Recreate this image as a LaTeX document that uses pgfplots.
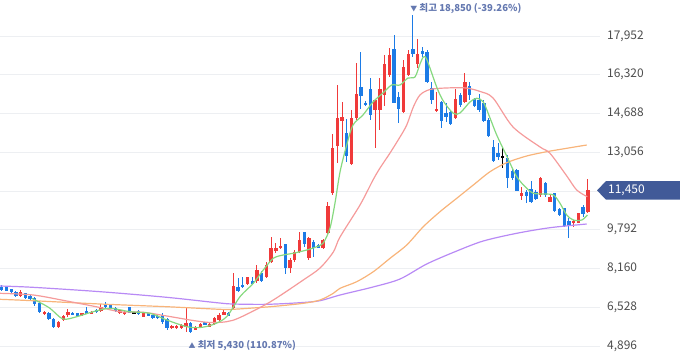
\documentclass[border=0pt]{standalone}
\usepackage{fontspec}
\usepackage{pgfplots}
\usepackage{pgfplotstable}
\pgfplotsset{compat=1.18}
\newfontfamily\kr{Noto Sans CJK KR}
\definecolor{upred}{HTML}{F03A3A}
\definecolor{dnblue}{HTML}{1C7BE6}
\definecolor{maA}{HTML}{86D97F}
\definecolor{maB}{HTML}{F59B9B}
\definecolor{maC}{HTML}{F8B47A}
\definecolor{maD}{HTML}{B88AF5}
\definecolor{gridc}{HTML}{EDEFF2}
\definecolor{lab}{HTML}{4D4D4D}
\definecolor{tagc}{HTML}{415A98}
\definecolor{ann}{HTML}{6478B0}

\pgfplotstableread{
x o h l c
4 7015 7255 6973 7158
9 6244 6370 6202 6328
12 5684 5949 5655 5920
13 5992 6202 5949 6160
14 6202 6442 6131 6341
17 6202 6307 6181 6273
19 6273 6370 6244 6341
21 6383 6652 6341 6552
25 6273 6455 6244 6413
26 6244 6383 6223 6341
30 6131 6307 6110 6273
36 5642 5781 5613 5752
37 5642 5781 5613 5752
38 5642 5810 5613 5781
39 5684 6484 5499 5852
41 5571 5752 5550 5710
42 5710 5852 5690 5823
44 5710 5852 5690 5823
45 5823 6105 5781 6063
46 5992 6273 5970 6202
47 6202 6413 6181 6341
49 6497 7971 6455 7423
52 7507 7815 7465 7789
54 7634 8308 7563 8097
56 7815 8447 7747 8308
57 8447 9500 8379 9011
58 8910 9247 8801 9011
59 9011 9432 8969 9108
61 8168 8590 7983 8518
62 8518 8939 8447 8868
63 8868 9710 8801 9361
65 8590 9470 8518 9457
68 9036 9403 9000 9361
69 9643 10974 9571 10793
70 11328 13813 11256 13248
71 13333 15889 12604 14512
72 14386 15186 13291 14529
74 12562 14836 12520 14487
75 14487 16803 14415 15498
79 14836 15270 13223 15258
80 14836 16171 13994 15708
81 15468 17153 15005 16761
82 16310 17448 16226 17153
85 14765 16942 14697 16660
86 16310 17363 16268 17195
88 16761 17827 16593 17195
92 14807 15607 14765 14866
96 14487 15708 14444 15287
98 15186 16382 15144 16028
110 11214 11605 11045 11353
114 11256 12027 11186 11985
116 10974 11256 10943 11186
121 10077 10203 9921 10161
122 10090 10486 10062 10486
124 10552 11917 10510 11450
}\up

\pgfplotstableread{
x o h l c
0 7394 7465 7213 7255
1 7394 7423 7213 7226
2 7284 7318 7149 7184
3 7184 7213 6981 7015
5 7115 7149 6876 6905
6 7002 7044 6834 6876
7 6905 6973 6581 6652
8 6720 6791 6307 6341
10 6273 6328 5992 6021
11 6034 6076 5655 5684
15 6299 6328 6202 6231
16 6273 6307 6160 6173
18 6383 6526 6231 6244
20 6413 6455 6286 6316
22 6652 6737 6509 6526
23 6623 6644 6455 6484
24 6484 6518 6328 6370
27 6526 6552 6273 6299
29 6370 6392 6223 6244
31 6273 6300 6140 6160
32 6202 6223 6042 6063
33 6160 6181 6042 6063
34 6202 6273 5810 5920
35 6021 6063 5571 5642
40 5852 5920 5430 5499
43 5895 5920 5760 5781
48 6307 6340 6160 6181
50 7394 7760 7184 7226
51 7465 7815 7326 7368
53 7634 7815 7493 7507
55 7984 8055 7613 7646
60 9192 9210 7916 8168
64 9685 9710 9078 9192
66 9289 9361 8632 9036
67 9150 9192 9019 9036
73 13855 14444 12658 12899
76 15793 17292 14866 15426
77 15131 15215 15000 15068
78 15708 16171 14415 14626
83 17393 17995 15118 15144
84 15397 15607 14276 14866
87 17393 18850 17081 17195
89 17334 17503 17081 17195
90 17292 17363 15986 16028
91 15750 16000 15100 15258
93 15186 15200 14065 14385
94 14722 15118 14343 14529
95 14765 14836 14205 14247
97 15468 15540 14976 15047
99 15847 16028 15258 15468
100 15287 15340 14963 15005
101 15258 15510 14752 14836
102 15144 15258 14343 14385
103 14415 14500 13700 13741
104 13291 13573 12658 12700
105 13010 13459 12730 12868
107 12814 12941 11551 11972
108 12280 12337 11888 11985
109 12309 12350 11425 11437
111 11395 11467 10906 11214
112 11509 11859 10930 10948
113 11395 11467 11045 11075
115 11749 11818 11186 11256
117 11353 11353 10552 10594
118 10653 10695 10371 10413
119 10695 10695 9922 9950
120 10161 10275 9432 9950
123 10738 10835 10342 10456
}\down

\pgfplotstableread{
x o h l c
28 6310 6328 6265 6290
106 12885 13291 12381 12850
}\flat

\pgfplotsset{
  wick/.style={only marks, mark=*, mark size=0pt, mark options={draw=none, fill=none},
    error bars/.cd, y dir=both, y explicit, error mark=none,
    error bar style={line width=1bp, draw=#1}},
  body/.style={only marks, mark=*, mark size=0pt, mark options={draw=none, fill=none},
    error bars/.cd, y dir=both, y explicit, error mark=none,
    error bar style={line width=3.3bp, draw=#1}},
}

\begin{document}
\begin{tikzpicture}
\begin{axis}[
  scale only axis, width=600bp, height=358bp,
  xmin=-0.36, xmax=126.57, ymin=4391, ymax=19469,
  enlargelimits=false, clip=false,
  axis line style={draw=none},
  major tick length=0pt,
  xtick=\empty,
  ytick={4896,6528,8160,9792,13056,14688,16320,17952},
  yticklabels={{4,896},{6,528},{8,160},{9,792},{13,056},{14,688},{16,320},{17,952}},
  extra y ticks={11424}, extra y tick labels={},
  extra y tick style={grid=major, major tick length=0pt},
  yticklabel pos=right,
  yticklabel style={anchor=west, xshift=7bp, text=lab, font=\kr\fontsize{12}{14}\selectfont, inner sep=0pt},
  ymajorgrids, grid style={draw=gridc, line width=1bp},
]
\coordinate (SW) at (rel axis cs:0,0);
\coordinate (T) at (axis cs:126.57,11450);

% wicks
\addplot[wick=upred] table[x=x, y expr={(\thisrow{h}+\thisrow{l})/2}, y error expr={(\thisrow{h}-\thisrow{l})/2}] {\up};
\addplot[wick=dnblue] table[x=x, y expr={(\thisrow{h}+\thisrow{l})/2}, y error expr={(\thisrow{h}-\thisrow{l})/2}] {\down};
\addplot[wick=black] table[x=x, y expr={(\thisrow{h}+\thisrow{l})/2}, y error expr={(\thisrow{h}-\thisrow{l})/2}] {\flat};
% bodies
\addplot[body=upred] table[x=x, y expr={(\thisrow{o}+\thisrow{c})/2}, y error expr={abs(\thisrow{c}-\thisrow{o})/2}] {\up};
\addplot[body=dnblue] table[x=x, y expr={(\thisrow{o}+\thisrow{c})/2}, y error expr={abs(\thisrow{c}-\thisrow{o})/2}] {\down};
\addplot[body=black] table[x=x, y expr={(\thisrow{o}+\thisrow{c})/2}, y error expr={abs(\thisrow{c}-\thisrow{o})/2}] {\flat};

% MA120
\addplot[maD, line width=1.2bp, smooth] coordinates {(-0.36,7423) (6.62,7368) (20.80,7184) (34.91,6947) (45.48,6720) (48.93,6665) (56.06,6652) (63.11,6720) (67.34,6804) (71.57,7044) (78.55,7381) (84.26,7718) (89.91,8350) (96.26,8897) (101.88,9319) (108.95,9643) (115.99,9879) (123.76,10034)};
% MA60
\addplot[maC, line width=1.2bp, smooth] coordinates {(-0.36,6863) (6.62,6804) (20.80,6665) (34.91,6551) (46.18,6442) (48.93,6442) (56.76,6551) (63.80,6694) (67.34,6834) (70.15,7115) (71.57,7326) (75.10,7604) (78.61,8025) (82.15,8590) (85.68,9150) (89.19,9921) (92.72,10553) (96.26,11117) (99.77,11677) (103.30,12237) (106.83,12617) (111.07,12899) (115.30,13080) (119.53,13223) (123.76,13362)};
% MA20
\addplot[maB, line width=1.2bp, smooth] coordinates {(-0.36,7115) (6.69,7044) (13.75,6791) (20.80,6518) (25.03,6341) (29.96,6316) (34.91,6160) (40.53,5970) (44.07,5886) (47.60,5920) (50.41,6097) (56.76,6749) (63.80,7676) (67.34,8181) (70.15,8855) (71.57,9487) (75.80,10835) (78.55,11888) (80.03,12393) (82.15,13025) (84.26,13699) (85.68,14204) (87.08,14962) (88.49,15468) (90.60,15700) (93.99,15763) (98.22,15763) (101.19,15616) (103.94,15342) (108.17,14120) (113.88,13278) (115.99,13012) (119.53,12060) (121.64,11467) (123.88,11184)};
% MA5
\addplot[maA, line width=1.2bp, smooth] coordinates {(6.35,6905) (8.10,6727) (10.22,6484) (12.97,6034) (15.87,6131) (19.38,6341) (22.91,6484) (27.14,6341) (31.37,6273) (34.91,5992) (39.14,5710) (41.95,5676) (44.76,5802) (47.60,6131) (50.41,6973) (53.23,7537) (55.34,8097) (57.46,8590) (59.57,8730) (61.69,8801) (64.52,8939) (66.64,9078) (68.03,9234) (69.45,9866) (70.51,10919) (71.57,12225) (72.98,13362) (74.32,14204) (76.43,14626) (78.55,15174) (80.66,15553) (82.50,15889) (84.26,15889) (85.95,16184) (87.43,16226) (88.49,16774) (89.23,17069) (89.97,16942) (92.02,15805) (93.42,15215) (95.53,14697) (96.95,14710) (99.06,15174) (100.49,15329) (101.88,15174) (103.30,14499) (104.72,13783) (106.83,12899) (108.95,12027) (111.07,11538) (112.48,11327) (114.59,11298) (116.71,11256) (118.11,10906) (119.53,10413) (120.94,10203) (122.72,10203) (123.90,10413)};

\node[anchor=west, inner sep=0pt, text=ann, font=\kr\bfseries\fontsize{9.6}{12}\selectfont] at (axis cs:86.4,19090) {{\fontsize{7}{8}\selectfont ▼} 최고 18,850 (-39.26\%)};
\node[anchor=west, inner sep=0pt, text=ann, font=\kr\bfseries\fontsize{9.6}{12}\selectfont] at (axis cs:39.5,4930) {{\fontsize{7}{8}\selectfont ▲} 최저 5,430 (110.87\%)};
\end{axis}
\fill[tagc] ([xshift=-3bp]T) -- ([xshift=6bp,yshift=9.3bp]T) -- ([xshift=80bp,yshift=9.3bp]T) -- ([xshift=80bp,yshift=-9.3bp]T) -- ([xshift=6bp,yshift=-9.3bp]T) -- cycle;
\node[anchor=west, inner sep=0pt, text=white, font=\kr\fontsize{12}{14}\selectfont] at ([xshift=8bp]T) {11,450};
\pgfresetboundingbox
\path (SW) rectangle ++(680bp,358bp);
\end{tikzpicture}
\end{document}
